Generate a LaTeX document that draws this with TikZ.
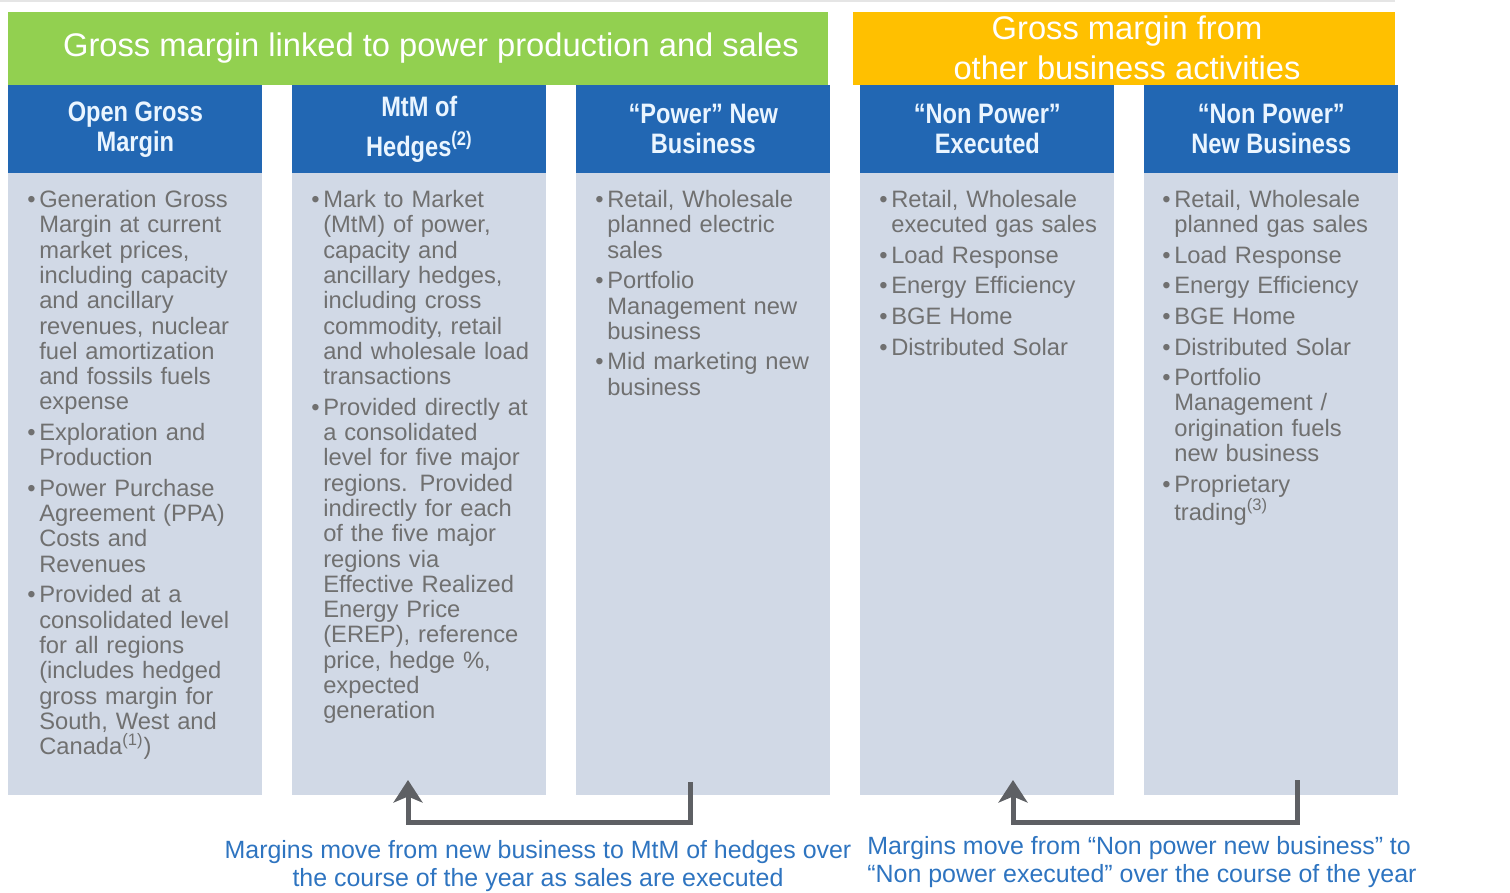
\documentclass[tikz,border=0pt]{standalone}
\usepackage{fontspec}
\setmainfont{Liberation Sans}
\newfontfamily\headfont[FakeStretch=0.84]{Liberation Sans}
\usetikzlibrary{arrows.meta}
\tikzset {>=Stealth}

\definecolor{gmgreen}{HTML}{92D050}
\definecolor{gmyellow}{HTML}{FFC000}
\definecolor{colblue}{HTML}{2267B3}
\definecolor{panelgray}{HTML}{D1D9E6}
\definecolor{bodytext}{HTML}{707070}
\definecolor{notetext}{HTML}{2E74C0}
\definecolor{arrowgray}{HTML}{5E6064}
\definecolor{headtext}{HTML}{EAF5FF}

% bullet points with a hanging indent
\newcommand\firstpt{\noindent\hangindent=6.8pt\hangafter=1\hbox to 6.8pt{\textbullet\hss}}
\newcommand\nextpt{\par\vspace{3pt}\firstpt}

\tikzset{
  banner/.style={anchor=north west,inner sep=0pt,minimum height=1.46cm},
  bannertext/.style={text=white,align=center,
    font=\fontsize{18.6}{22.7}\selectfont},
  head/.style={anchor=north west,fill=colblue,inner sep=0pt,
    minimum width=5.08cm,minimum height=1.76cm,align=center,text=headtext,
    font=\headfont\bfseries\fontsize{16}{17}\selectfont},
  panel/.style={anchor=north west,fill=panelgray,inner sep=0pt,
    minimum width=5.08cm,minimum height=12.44cm},
  items/.style={anchor=north west,inner sep=0pt,text width=4.7cm,
    align=left,text=bodytext,font=\fontsize{13.5}{14.4}\selectfont},
  note/.style={text=notetext,inner sep=0pt,font=\fontsize{14.2}{15.9}\selectfont},
  flow/.style={draw=arrowgray,line width=0.1cm,
    -{Stealth[length=0.45cm,width=0.58cm,inset=0.12cm]}}
}

\begin{document}
\begin{tikzpicture}[x=0.02cm,y=-0.02cm]
\useasboundingbox (0,0) rectangle (1510,892);
\draw[gray!20,line width=0.04cm] (0,1) -- (1395,1);

% the two banners on top
\node[banner,fill=gmgreen,minimum width=16.4cm] (power) at (8,12) {};
\node[bannertext] (powertext) at (431,48)
  {Gross margin linked to power production and sales};
\node[banner,fill=gmyellow,minimum width=10.84cm] (other) at (853,12) {};
\node[bannertext] (othertext) at (1127,48)
  {Gross margin from\\other business activities};

% column heads
\node[head] (ogm) at (8,85) {Open Gross\\Margin};
\node[head] (mtm) at (292,85) {MtM of\\[6pt]Hedges\textsuperscript{(2)}};
\node[head] (pnb) at (576,85) {“Power” New\\Business};
\node[head] (npe) at (860,85) {“Non Power”\\Executed};
\node[head] (npnb) at (1144,85) {“Non Power”\\New Business};

% column bodies
\node[panel] (ogmbox) at (8,173) {};
\node[panel] (mtmbox) at (292,173) {};
\node[panel] (pnbbox) at (576,173) {};
\node[panel] (npebox) at (860,173) {};
\node[panel] (npnbbox) at (1144,173) {};

\node[items] (ogmlist) at (27,190) {\firstpt Generation Gross\newline
  Margin at current\newline market prices,\newline including capacity\newline
  and ancillary\newline revenues, nuclear\newline fuel amortization\newline
  and fossils fuels\newline expense
  \nextpt Exploration and\newline Production
  \nextpt Power Purchase\newline Agreement (PPA)\newline Costs and\newline Revenues
  \nextpt Provided at a\newline consolidated level\newline for all regions\newline
  (includes hedged\newline gross margin for\newline South, West and\newline
  Canada\textsuperscript{(1)})\par};
\node[items] (mtmlist) at (311,190) {\firstpt Mark to Market\newline
  (MtM) of power,\newline capacity and\newline ancillary hedges,\newline
  including cross\newline commodity, retail\newline and wholesale load\newline
  transactions
  \nextpt Provided directly at\newline a consolidated\newline
  level for five major\newline regions. Provided\newline indirectly for each\newline
  of the five major\newline regions via\newline Effective Realized\newline
  Energy Price\newline (EREP), reference\newline price, hedge \%,\newline
  expected\newline generation\par};
\node[items] (pnblist) at (595,190) {\firstpt Retail, Wholesale\newline
  planned electric\newline sales
  \nextpt Portfolio\newline Management new\newline business
  \nextpt Mid marketing new\newline business\par};
\node[items] (npelist) at (879,190) {\firstpt Retail, Wholesale\newline
  executed gas sales
  \nextpt Load Response
  \nextpt Energy Efficiency
  \nextpt BGE Home
  \nextpt Distributed Solar\par};
\node[items] (npnblist) at (1162,190) {\firstpt Retail, Wholesale\newline
  planned gas sales
  \nextpt Load Response
  \nextpt Energy Efficiency
  \nextpt BGE Home
  \nextpt Distributed Solar
  \nextpt Portfolio\newline Management /\newline origination fuels\newline new business
  \nextpt Proprietary\newline trading\textsuperscript{(3)}\par};

% margins moving between columns
\coordinate (pnbfoot) at (690,782);
\coordinate (mtmfoot) at (408,780);
\coordinate (npnbfoot) at (1297,780);
\coordinate (npefoot) at (1013,780);
\draw[flow] (pnbfoot) -- ++(0,40) -| (mtmfoot);
\draw[flow] (npnbfoot) -- ++(0,42) -| (npefoot);

\node[note,align=center] (powernote) at (538,866)
  {Margins move from new business to MtM of hedges over\\
   the course of the year as sales are executed};
\node[note,align=left,anchor=west] (othernote) at (867,862)
  {Margins move from “Non power new business” to\\
   “Non power executed” over the course of the year};
\end{tikzpicture}
\end{document}
